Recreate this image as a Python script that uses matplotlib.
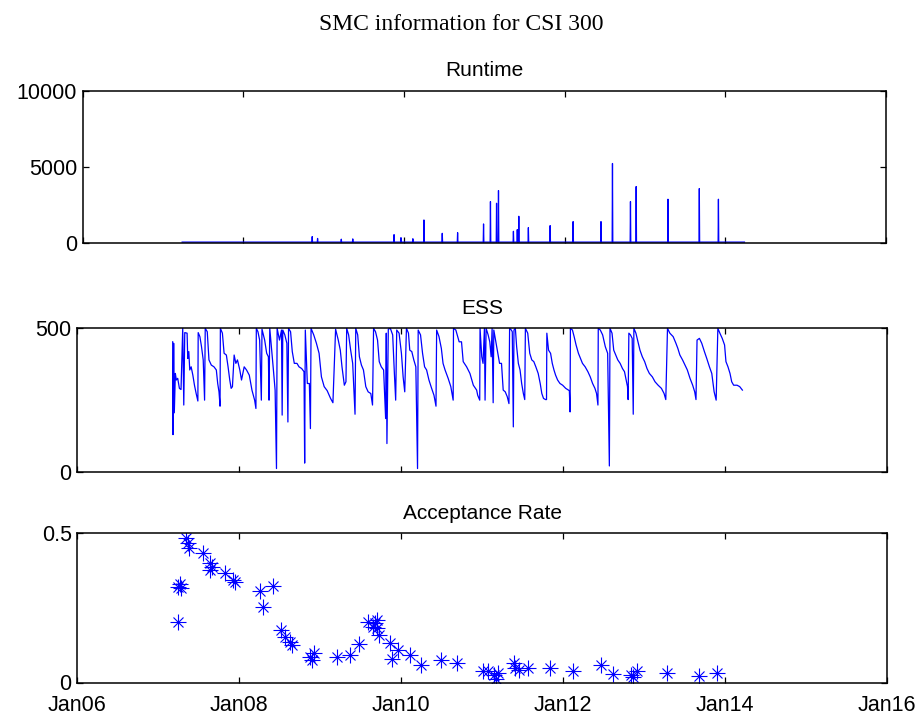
import numpy as np
import matplotlib.pyplot as plt

plt.rcParams['font.family'] = ['Liberation Sans', 'DejaVu Sans']

# x axis: decimal years, labelled like MATLAB's datetick
xticks = [2006, 2008, 2010, 2012, 2014, 2016]
xticklabels = ['Jan06', 'Jan08', 'Jan10', 'Jan12', 'Jan14', 'Jan16']

# Runtime: flat low baseline with isolated spikes
rt_start = 2007.238
rt_end = 2014.238
rt_base = 60
rt_spike_years = [2008.857, 2008.924, 2009.219, 2009.362, 2009.876, 2009.962,
                  2010.110, 2010.248, 2010.476, 2010.667, 2010.990, 2011.076,
                  2011.152, 2011.176, 2011.362, 2011.410, 2011.429, 2011.548,
                  2011.819, 2012.105, 2012.452, 2012.595, 2012.819, 2012.890,
                  2013.286, 2013.676, 2013.914]
rt_spike_vals = [420, 300, 250, 270, 550, 350,
                 280, 1516, 637, 681, 1253, 2725,
                 2615, 3450, 769, 879, 1758, 1011,
                 1143, 1407, 1407, 5231, 2725, 3714,
                 2879, 3582, 2879]

# ESS: sawtooth between resampling events
ess_years = [
    2007.178, 2007.182, 2007.190, 2007.198, 2007.211, 2007.223, 2007.240, 2007.261,
    2007.281, 2007.302, 2007.315, 2007.327, 2007.356, 2007.364, 2007.377, 2007.389,
    2007.406, 2007.427, 2007.447, 2007.468, 2007.489, 2007.493, 2007.514, 2007.534,
    2007.555, 2007.572, 2007.580, 2007.605, 2007.626, 2007.655, 2007.688, 2007.717,
    2007.734, 2007.750, 2007.763, 2007.767, 2007.792, 2007.813, 2007.841, 2007.862,
    2007.883, 2007.900, 2007.916, 2007.937, 2007.958, 2007.978, 2008.007, 2008.028,
    2008.061, 2008.090, 2008.124, 2008.157, 2008.190, 2008.206, 2008.211, 2008.231,
    2008.252, 2008.273, 2008.281, 2008.314, 2008.339, 2008.360, 2008.368, 2008.377,
    2008.401, 2008.422, 2008.443, 2008.460, 2008.468, 2008.497, 2008.522, 2008.530,
    2008.538, 2008.563, 2008.588, 2008.601, 2008.609, 2008.634, 2008.655, 2008.680,
    2008.713, 2008.738, 2008.771, 2008.800, 2008.808, 2008.816, 2008.841, 2008.866,
    2008.879, 2008.887, 2008.920, 2008.953, 2008.986, 2009.015, 2009.049, 2009.086,
    2009.128, 2009.157, 2009.190, 2009.223, 2009.248, 2009.269, 2009.298, 2009.318,
    2009.327, 2009.351, 2009.376, 2009.401, 2009.430, 2009.439, 2009.463, 2009.484,
    2009.509, 2009.534, 2009.563, 2009.592, 2009.625, 2009.646, 2009.659, 2009.683,
    2009.708, 2009.729, 2009.754, 2009.783, 2009.808, 2009.816, 2009.824, 2009.841,
    2009.866, 2009.895, 2009.916, 2009.932, 2009.945, 2009.974, 2010.003, 2010.024,
    2010.044, 2010.065, 2010.090, 2010.106, 2010.131, 2010.156, 2010.181, 2010.202,
    2010.210, 2010.239, 2010.264, 2010.289, 2010.314, 2010.343, 2010.376, 2010.405,
    2010.430, 2010.438, 2010.467, 2010.496, 2010.517, 2010.542, 2010.580, 2010.613,
    2010.642, 2010.646, 2010.675, 2010.716, 2010.745, 2010.766, 2010.808, 2010.849,
    2010.891, 2010.932, 2010.945, 2010.970, 2010.974, 2010.995, 2011.011, 2011.028,
    2011.036, 2011.049, 2011.074, 2011.094, 2011.111, 2011.123, 2011.136, 2011.144,
    2011.165, 2011.190, 2011.215, 2011.239, 2011.260, 2011.285, 2011.310, 2011.331,
    2011.339, 2011.360, 2011.372, 2011.385, 2011.393, 2011.410, 2011.426, 2011.447,
    2011.468, 2011.488, 2011.509, 2011.526, 2011.534, 2011.563, 2011.588, 2011.613,
    2011.638, 2011.663, 2011.692, 2011.717, 2011.737, 2011.758, 2011.783, 2011.795,
    2011.799, 2011.820, 2011.845, 2011.866, 2011.887, 2011.907, 2011.932, 2011.961,
    2011.994, 2012.032, 2012.077, 2012.086, 2012.090, 2012.115, 2012.136, 2012.160,
    2012.189, 2012.214, 2012.239, 2012.272, 2012.306, 2012.335, 2012.364, 2012.393,
    2012.413, 2012.430, 2012.434, 2012.459, 2012.488, 2012.521, 2012.550, 2012.571,
    2012.579, 2012.604, 2012.625, 2012.650, 2012.675, 2012.704, 2012.733, 2012.758,
    2012.779, 2012.795, 2012.803, 2012.812, 2012.832, 2012.853, 2012.866, 2012.874,
    2012.899, 2012.924, 2012.949, 2012.978, 2013.007, 2013.036, 2013.065, 2013.102,
    2013.135, 2013.173, 2013.214, 2013.247, 2013.268, 2013.289, 2013.318, 2013.359,
    2013.393, 2013.417, 2013.442, 2013.475, 2013.505, 2013.534, 2013.567, 2013.600,
    2013.625, 2013.641, 2013.654, 2013.683, 2013.712, 2013.745, 2013.774, 2013.807,
    2013.836, 2013.865, 2013.890, 2013.911, 2013.936, 2013.965, 2013.994, 2014.011,
    2014.036, 2014.061, 2014.082, 2014.106, 2014.148, 2014.181, 2014.214]
ess_vals = [
    453, 130, 448, 206, 343, 320, 326, 291,
    287, 500, 233, 485, 483, 395, 419, 355,
    366, 337, 302, 273, 247, 485, 471, 436,
    390, 250, 500, 488, 390, 372, 366, 355,
    308, 279, 229, 500, 483, 413, 407, 366,
    320, 291, 297, 407, 378, 390, 355, 320,
    366, 355, 337, 285, 250, 221, 500, 488,
    459, 250, 497, 459, 413, 401, 250, 500,
    424, 355, 285, 12, 500, 459, 494, 198,
    494, 477, 448, 174, 500, 488, 419, 378,
    378, 366, 360, 349, 31, 494, 308, 308,
    151, 500, 477, 448, 413, 331, 297, 283,
    256, 241, 497, 459, 424, 366, 302, 314,
    500, 477, 424, 378, 201, 500, 477, 401,
    372, 355, 297, 279, 273, 233, 500, 488,
    459, 384, 366, 355, 186, 483, 99, 497,
    500, 477, 343, 250, 494, 483, 413, 331,
    279, 500, 483, 424, 419, 390, 366, 12,
    494, 477, 413, 366, 355, 320, 291, 267,
    229, 494, 471, 430, 378, 355, 326, 297,
    250, 500, 494, 453, 453, 384, 366, 343,
    302, 285, 267, 250, 500, 401, 378, 500,
    250, 500, 477, 453, 401, 500, 241, 494,
    459, 419, 378, 378, 285, 279, 262, 238,
    500, 494, 488, 157, 494, 500, 436, 378,
    355, 308, 273, 252, 500, 483, 413, 390,
    384, 366, 343, 308, 273, 256, 252, 252,
    483, 424, 413, 378, 355, 337, 320, 308,
    302, 291, 283, 209, 500, 494, 471, 442,
    413, 395, 378, 366, 349, 331, 308, 291,
    273, 233, 500, 494, 477, 436, 413, 21,
    500, 483, 424, 407, 390, 378, 360, 349,
    320, 297, 252, 483, 477, 465, 201, 500,
    483, 453, 424, 401, 384, 360, 343, 331,
    314, 302, 291, 273, 252, 500, 483, 471,
    448, 430, 407, 390, 372, 355, 326, 302,
    279, 252, 459, 465, 448, 419, 395, 366,
    343, 279, 250, 500, 483, 465, 442, 384,
    366, 343, 314, 302, 302, 297, 285]

# Acceptance rate at each move step
acc_years = [2007.238, 2007.247, 2007.266, 2007.276, 2007.342, 2007.361, 2007.384,
             2007.550, 2007.645, 2007.645, 2007.669, 2007.825, 2007.929, 2007.953,
             2008.260, 2008.298, 2008.417, 2008.511, 2008.559, 2008.630, 2008.653,
             2008.876, 2008.900, 2008.923, 2009.207, 2009.364, 2009.482, 2009.586,
             2009.657, 2009.681, 2009.705, 2009.705, 2009.728, 2009.856, 2009.884,
             2009.965, 2010.107, 2010.249, 2010.486, 2010.685, 2011.007, 2011.078,
             2011.149, 2011.172, 2011.196, 2011.395, 2011.409, 2011.456, 2011.565,
             2011.835, 2012.119, 2012.465, 2012.616, 2012.844, 2012.863, 2012.910,
             2013.289, 2013.682, 2013.905]
acc_vals = [0.321, 0.204, 0.330, 0.316, 0.483, 0.467, 0.450,
            0.433, 0.400, 0.377, 0.388, 0.366, 0.344, 0.338,
            0.305, 0.254, 0.325, 0.176, 0.154, 0.137, 0.126,
            0.087, 0.076, 0.098, 0.087, 0.093, 0.129, 0.204,
            0.187, 0.199, 0.210, 0.182, 0.160, 0.134, 0.078,
            0.109, 0.093, 0.059, 0.076, 0.065, 0.037, 0.037,
            0.026, 0.011, 0.031, 0.065, 0.048, 0.042, 0.048,
            0.048, 0.037, 0.057, 0.029, 0.026, 0.020, 0.037,
            0.031, 0.022, 0.031]

# build runtime line: baseline, spike, baseline
rt_x = [rt_start]
rt_y = [rt_base]
for t, v in zip(rt_spike_years, rt_spike_vals):
    rt_x += [t - 0.004, t, t + 0.004]
    rt_y += [rt_base, v, rt_base]
rt_x.append(rt_end)
rt_y.append(rt_base)

W, H = 923, 722
fig = plt.figure(figsize=(W / 100, H / 100), dpi=100)


def make_axes(left, right, top, bottom):
    return fig.add_axes([left / W, 1 - bottom / H, (right - left) / W, (bottom - top) / H])


ax1 = make_axes(82.7, 886, 91, 243)
ax2 = make_axes(77.3, 887, 328.3, 472)
ax3 = make_axes(77.3, 887, 533.3, 682.5)

blue = (0, 0, 1)
ax1.plot(rt_x, rt_y, color=blue, linewidth=0.9)
ax2.plot(ess_years, ess_vals, color=blue, linewidth=0.9)
# MATLAB style asterisk = plus + cross
ax3.plot(acc_years, acc_vals, linestyle='none', marker='+', color=blue,
         markersize=11, markeredgewidth=0.8)
ax3.plot(acc_years, acc_vals, linestyle='none', marker='x', color=blue,
         markersize=7.5, markeredgewidth=0.8)

ax1.set_ylim(0, 10000)
ax1.set_yticks([0, 5000, 10000])
ax2.set_ylim(0, 500)
ax2.set_yticks([0, 500])
ax3.set_ylim(0, 0.5)
ax3.set_yticks([0, 0.5])
ax3.set_yticklabels(['0', '0.5'])

titles = ['Runtime', 'ESS', 'Acceptance Rate']
for ax, title in zip([ax1, ax2, ax3], titles):
    ax.set_xlim(2006, 2016)
    ax.set_xticks(xticks)
    if ax is ax3:
        ax.set_xticklabels(xticklabels)
    else:
        ax.set_xticklabels([])
    ax.tick_params(direction='in', top=True, right=True, length=4, width=0.9,
                   labelsize=15.5, pad=4, colors='black')
    for s in ax.spines.values():
        s.set_linewidth(1.1)
    ax.set_title(title, fontsize=15, pad=10.5)

ax3.tick_params(axis='x', pad=9)

fig.text(0.5, 1 - 24 / H, 'SMC information for CSI 300', ha='center', va='center',
         fontsize=17, family=['Liberation Serif', 'DejaVu Serif'])

fig.savefig('out.png', dpi=100)
